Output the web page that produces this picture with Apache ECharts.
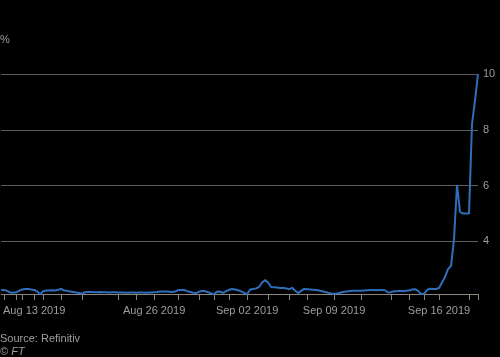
<!DOCTYPE html>
<html>
<head>
<meta charset="utf-8">
<script src="https://cdn.jsdelivr.net/npm/echarts@6/dist/echarts.min.js"></script>
<style>
html,body{margin:0;padding:0;background:#000;}
#c{width:500px;height:357px;}
</style>
</head>
<body>
<div id="c"></div>
<script>
// Overnight repo rate, %, intraday observations (evenly spaced on a category axis)
const rateValues = [
  2.25,2.25,2.22,2.16,2.15,2.17,2.23,2.27,2.29,2.29,
  2.27,2.25,2.20,2.10,2.21,2.23,2.23,2.24,2.23,2.26,
  2.29,2.23,2.22,2.20,2.18,2.16,2.14,2.12,2.17,2.18,
  2.18,2.17,2.17,2.18,2.17,2.17,2.16,2.17,2.17,2.16,
  2.16,2.16,2.15,2.16,2.16,2.15,2.16,2.16,2.15,2.16,
  2.16,2.17,2.18,2.20,2.20,2.20,2.19,2.18,2.20,2.24,
  2.25,2.25,2.21,2.18,2.15,2.14,2.19,2.22,2.21,2.17,
  2.13,2.10,2.20,2.19,2.15,2.21,2.26,2.29,2.27,2.24,
  2.20,2.15,2.10,2.27,2.29,2.31,2.36,2.52,2.61,2.52,
  2.36,2.35,2.34,2.32,2.32,2.31,2.28,2.33,2.23,2.14,
  2.22,2.29,2.28,2.27,2.26,2.25,2.23,2.21,2.18,2.15,
  2.13,2.12,2.13,2.15,2.18,2.20,2.21,2.22,2.22,2.22,
  2.22,2.23,2.24,2.25,2.25,2.24,2.25,2.25,2.24,2.16,
  2.17,2.21,2.21,2.22,2.21,2.22,2.23,2.27,2.28,2.22,
  2.11,2.11,2.25,2.30,2.29,2.29,2.32,2.52,2.72,3.00,
  3.12,4.08,6.02,5.05,5.00,5.00,5.00,8.20,9.05,10.00
];
// Tick labels and the observations they sit on
const tickLabels = ['Aug 13 2019', 'Aug 26 2019', 'Sep 02 2019', 'Sep 09 2019', 'Sep 16 2019'];
const labelIndex = [11, 51, 82, 111, 146];
const tickIndex = [1,5,7,11,14,20,27,39,45,51,59,66,71,76,82,89,96,102,111,120,130,136,141,146,156,159];
const yTicks = [2, 4, 6, 8, 10];

const categories = rateValues.map((v, i) => {
  const k = labelIndex.indexOf(i);
  return k >= 0 ? tickLabels[k] : '';
});

const FONT = 'Liberation Sans';
const TXT = '#9d9d9d';

const chart = echarts.init(document.getElementById('c'), null, {renderer: 'canvas'});
chart.setOption({
  backgroundColor: '#000',
  animation: false,
  grid: {left: 1, right: 22, top: 74, bottom: 60, containLabel: false},
  xAxis: {
    type: 'category',
    data: categories,
    boundaryGap: false,
    offset: -3,
    axisLine: {onZero: false, lineStyle: {color: '#8c857c', width: 1}},
    axisTick: {
      show: true,
      length: 6,
      interval: (idx) => tickIndex.indexOf(idx) >= 0,
      lineStyle: {color: '#8c857c', width: 1}
    },
    axisLabel: {
      interval: (idx) => labelIndex.indexOf(idx) >= 0,
      color: TXT,
      fontFamily: FONT,
      fontSize: 11,
      margin: 11,
      showMinLabel: true,
      showMaxLabel: true
    },
    splitLine: {show: false}
  },
  yAxis: {
    type: 'value',
    position: 'right',
    min: yTicks[0],
    max: yTicks[yTicks.length - 1],
    interval: 2,
    axisLine: {show: false},
    axisTick: {show: false},
    axisLabel: {
      color: TXT,
      fontFamily: FONT,
      fontSize: 11,
      margin: 5,
      showMinLabel: false
    },
    splitLine: {show: true, showMinLine: false, lineStyle: {color: '#5e5e5e', width: 1}}
  },
  series: [{
    type: 'line',
    data: rateValues,
    symbol: 'none',
    smooth: false,
    clip: false,
    lineStyle: {color: '#2f6fba', width: 2},
    z: 5
  }],
  graphic: [
    {type: 'text', left: 0, top: 34, style: {text: '%', fill: TXT, font: '11px ' + FONT}},
    {type: 'text', left: 0, top: 333, style: {text: 'Source: Refinitiv', fill: TXT, font: '11px ' + FONT}},
    {type: 'text', left: 0, top: 346, style: {text: '© FT', fill: TXT, font: 'italic 11px ' + FONT}}
  ]
});
</script>
</body>
</html>
